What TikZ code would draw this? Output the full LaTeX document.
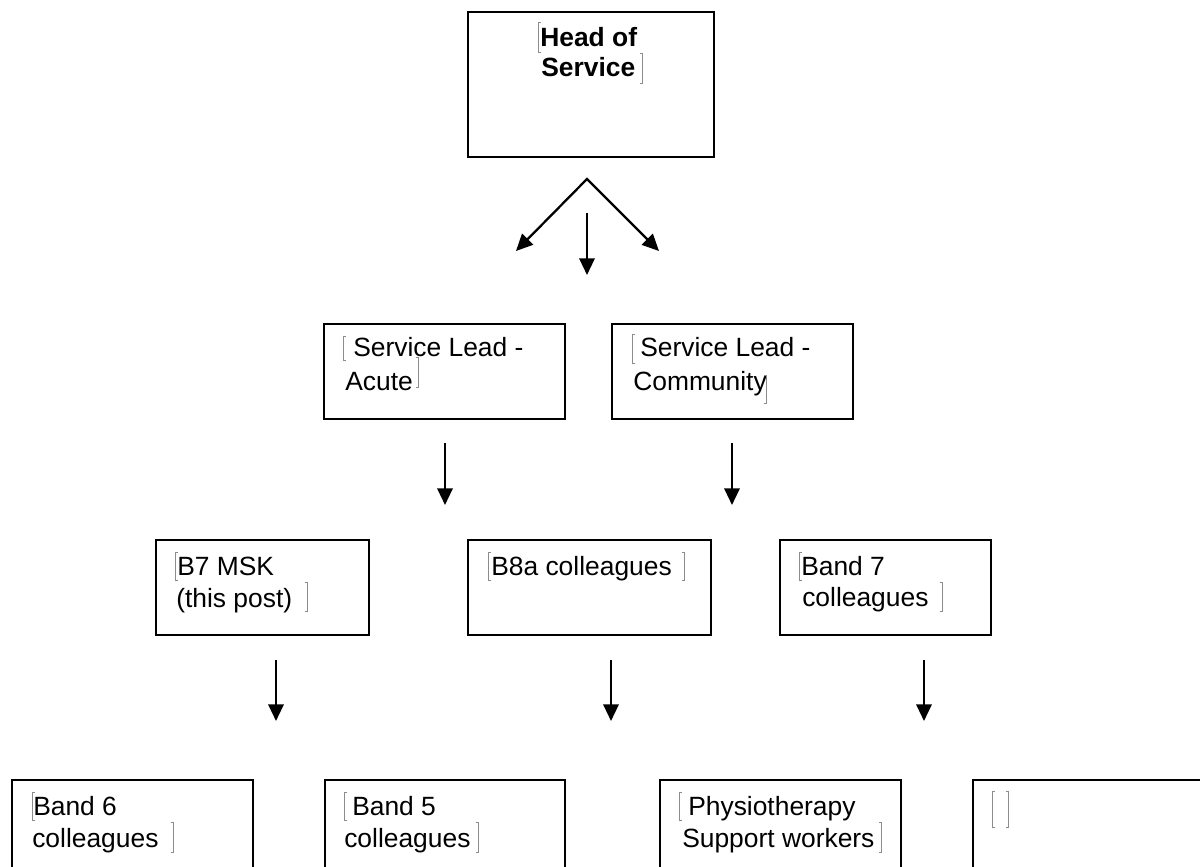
\documentclass[tikz,border=0pt]{standalone}
\usepackage{fontspec}
\setmainfont{Liberation Sans}
\usetikzlibrary{arrows.meta}
\newcommand\bx[5]{\node[box,anchor=north west,minimum width={(#4-#2)*0.75pt},minimum height={(#5-#3)*0.75pt}] (#1) at (#2,#3) {};}
\newcommand\lbrk[3]{\draw[brk] (#1+2.5,#2) -- (#1,#2) -- (#1,#3) -- (#1+2.5,#3);}
\newcommand\rbrk[3]{\draw[brk] (#1-2.5,#2) -- (#1,#2) -- (#1,#3) -- (#1-2.5,#3);}
\begin{document}
\begin{tikzpicture}[x=0.75pt,y=-0.75pt,
  box/.style={draw=black,line width=1.8pt,inner sep=0pt,fill=none},
  txt/.style={anchor=base west,inner sep=0pt,font=\fontsize{19.8pt}{24pt}\selectfont},
  btxt/.style={anchor=base west,inner sep=0pt,font=\fontsize{19.8pt}{24pt}\selectfont\bfseries},
  arr/.style={line width=1.7pt,line join=miter,-{Triangle[length=12.5pt,width=11.5pt]}},
  arrb/.style={line width=1.7pt,line join=miter,{Triangle[length=12.5pt,width=11.5pt]}-{Triangle[length=12.5pt,width=11.5pt]}},
  brk/.style={draw=black!45,line width=0.6pt}]
\fill[white] (0,0) rectangle (1200,867);
\clip (0,0) rectangle (1200,867);

% boxes
\bx{head}{467}{11}{713}{156}
\bx{sla}{323}{323}{564}{418}
\bx{slc}{611}{323}{852}{418}
\bx{b7}{155}{539}{368}{634}
\bx{b8}{467}{539}{710}{634}
\bx{bd7}{779}{539}{990}{634}
\bx{b6}{11}{779}{252}{905}
\bx{b5}{324}{779}{564}{905}
\bx{ph}{659}{779}{900}{905}
\bx{em}{972}{779}{1230}{905}

% texts
\node[btxt] (head1) at (540,47) {Head of};
\node[btxt] (head2) at (541,77) {Service};
\node[txt] (sla1) at (353,356) {Service Lead -};
\node[txt] (sla2) at (345,390) {Acute};
\node[txt] (slc1) at (640,356) {Service Lead -};
\node[txt] (slc2) at (633,390) {Community};
\node[txt] (b7a) at (177,575) {B7 MSK};
\node[txt] (b7b) at (176,607) {(this post)};
\node[txt] (b8a) at (491,575) {B8a colleagues};
\node[txt] (bd7a) at (801,575) {Band 7};
\node[txt] (bd7b) at (802,606) {colleagues};
\node[txt] (b6a) at (33,815) {Band 6};
\node[txt] (b6b) at (32,847) {colleagues};
\node[txt] (b5a) at (352,815) {Band 5};
\node[txt] (b5b) at (344,847) {colleagues};
\node[txt] (pha) at (688,815) {Physiotherapy};
\node[txt] (phb) at (682,847) {Support workers};

% placeholder brackets
\lbrk{538}{22}{52}   \rbrk{642}{53}{83}
\lbrk{343}{336}{360} \rbrk{418}{357}{387}
\lbrk{632}{334}{363} \rbrk{766}{375}{403}
\lbrk{175}{552}{580} \rbrk{307}{582}{611}
\lbrk{488}{552}{580} \rbrk{684}{552}{580}
\lbrk{799}{552}{580} \rbrk{942}{582}{611}
\lbrk{32}{792}{820}  \rbrk{173}{822}{852}
\lbrk{344}{792}{820} \rbrk{478}{822}{852}
\lbrk{679}{792}{820} \rbrk{881}{822}{852}
\lbrk{992}{791}{827} \rbrk{1008}{791}{827}

% arrow end points
\coordinate (apex) at (587,179);
\coordinate (tl) at (516,251);
\coordinate (tr) at (659,251);
\coordinate (m0) at (587,213);  \coordinate (m1) at (587,275);
\coordinate (a0) at (445,443);  \coordinate (a1) at (445,505);
\coordinate (c0) at (732,443);  \coordinate (c1) at (732,505);
\coordinate (d0) at (276,660);  \coordinate (d1) at (276,721);
\coordinate (e0) at (611,660);  \coordinate (e1) at (611,721);
\coordinate (f0) at (924,660);  \coordinate (f1) at (924,721);

\draw[arrb] (tl) -- (apex) -- (tr);
\draw[arr] (m0) -- (m1);
\draw[arr] (a0) -- (a1);
\draw[arr] (c0) -- (c1);
\draw[arr] (d0) -- (d1);
\draw[arr] (e0) -- (e1);
\draw[arr] (f0) -- (f1);
\end{tikzpicture}
\end{document}
